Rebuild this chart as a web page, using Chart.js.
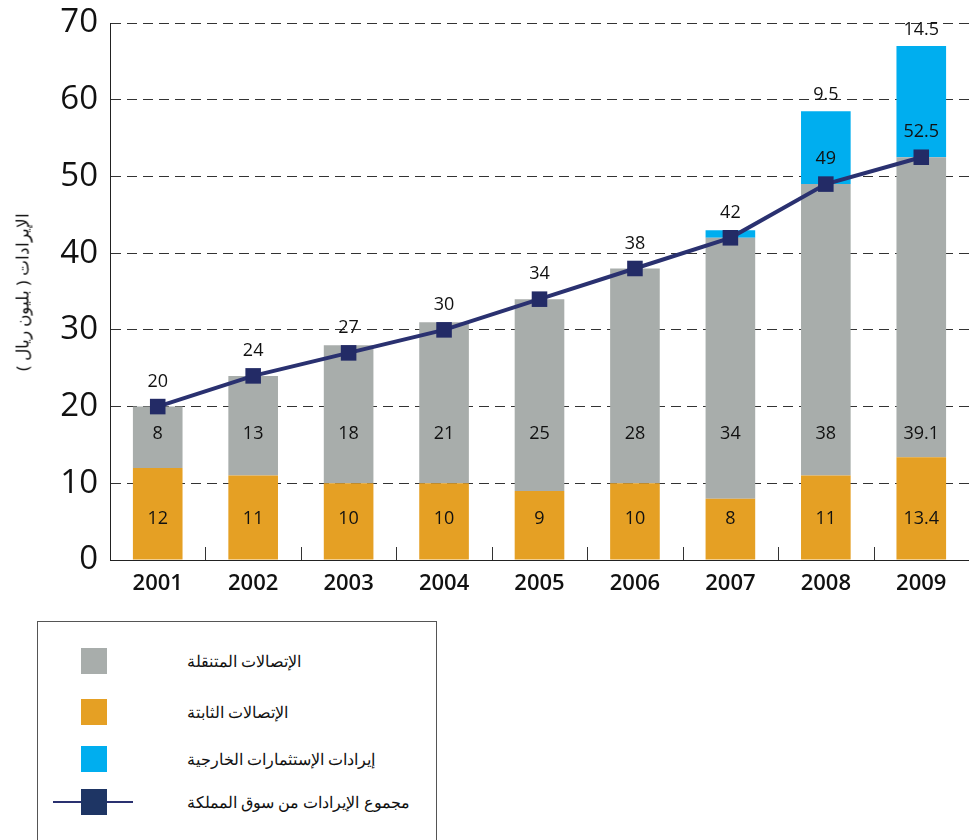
<!DOCTYPE html>
<html>
<head>
<meta charset="utf-8">
<script src="https://cdn.jsdelivr.net/npm/chart.js@4"></script>
<style>
  body { margin: 0; background: #fff; width: 969px; height: 840px; position: relative; overflow: hidden; font-family: "Noto Sans", sans-serif; }
  #wrap { position: absolute; left: 0; top: 0; width: 969px; height: 600px; }
  #ytitle { position: absolute; left: 22px; top: 292px; transform: translate(-50%, -50%) rotate(-90deg); font-size: 17px; white-space: nowrap; direction: rtl; color: #111; }
  #legend { position: absolute; left: 37px; top: 621px; width: 400px; height: 240px; border: 1px solid #555; box-sizing: border-box; }
  .item { position: absolute; left: 0; height: 26px; width: 398px; }
  .box { position: absolute; left: 43px; top: 0; width: 26px; height: 26px; }
  .txt { position: absolute; left: 149px; top: 0; line-height: 26px; font-size: 16px; direction: rtl; color: #111; white-space: nowrap; }
  .line { position: absolute; left: 15px; top: 12px; width: 80px; height: 2px; background: #2a3170; }
</style>
</head>
<body>
<div id="wrap"><canvas id="chart"></canvas></div>
<div id="ytitle">الإيرادات ( بليون ريال )</div>
<div id="legend">
  <div class="item" style="top:26px"><div class="box" style="background:#a8adab"></div><div class="txt">الإتصالات المتنقلة</div></div>
  <div class="item" style="top:77px"><div class="box" style="background:#e5a024"></div><div class="txt">الإتصالات الثابتة</div></div>
  <div class="item" style="top:124px"><div class="box" style="background:#00aeef"></div><div class="txt">إيرادات الإستثمارات الخارجية</div></div>
  <div class="item" style="top:167px"><div class="line"></div><div class="box" style="background:#1e3564"></div><div class="txt">مجموع الإيرادات من سوق المملكة</div></div>
</div>
<script>
const years = ["2001", "2002", "2003", "2004", "2005", "2006", "2007", "2008", "2009"];
const fixedLine = [12, 11, 10, 10, 9, 10, 8, 11, 13.4];
const mobile = [8, 13, 18, 21, 25, 28, 34, 38, 39.1];
const foreign = [0, 0, 0, 0, 0, 0, 1, 9.5, 14.5];
const domesticTotal = [20, 24, 27, 30, 34, 38, 42, 49, 52.5];
const yTicks = [0, 10, 20, 30, 40, 50, 60, 70];

const labelPlugin = {
  id: 'labels',
  afterDatasetsDraw(chart) {
    const ctx = chart.ctx;
    const y = chart.scales.y;
    const area = chart.chartArea;
    ctx.save();
    // small ticks between categories, pointing up
    ctx.strokeStyle = '#333';
    ctx.lineWidth = 1;
    const step = (area.right - area.left) / years.length;
    for (let i = 1; i < years.length; i++) {
      const x = Math.round(area.left + i * step) + 0.5;
      ctx.beginPath();
      ctx.moveTo(x, area.bottom - 13);
      ctx.lineTo(x, area.bottom);
      ctx.stroke();
    }
    ctx.fillStyle = '#111';
    ctx.font = '500 18px "Open Sans"';
    ctx.textAlign = 'center';
    ctx.textBaseline = 'middle';
    const barMeta = chart.getDatasetMeta(0);
    const blueMeta = chart.getDatasetMeta(2);
    const lineMeta = chart.getDatasetMeta(3);
    years.forEach((yr, i) => {
      const x = barMeta.data[i].x;
      ctx.fillText(String(fixedLine[i]), x, y.getPixelForValue(5.3));
      ctx.fillText(String(mobile[i]), x, y.getPixelForValue(16.5));
      if (foreign[i] > 5) {
        ctx.fillText(String(foreign[i]), x, blueMeta.data[i].y - 16);
      }
      const p = lineMeta.data[i];
      ctx.fillText(String(domesticTotal[i]), p.x, p.y - 25);
    });
    ctx.restore();
  }
};

new Chart(document.getElementById('chart'), {
  data: {
    labels: years,
    datasets: [
      { type: 'bar', label: 'fixed', data: fixedLine, backgroundColor: '#e5a024', stack: 'bars', order: 1, barPercentage: 0.52, categoryPercentage: 1 },
      { type: 'bar', label: 'mobile', data: mobile, backgroundColor: '#a8adab', stack: 'bars', order: 1, barPercentage: 0.52, categoryPercentage: 1 },
      { type: 'bar', label: 'foreign', data: foreign, backgroundColor: '#00aeef', stack: 'bars', order: 1, barPercentage: 0.52, categoryPercentage: 1 },
      { type: 'line', label: 'total', data: domesticTotal, stack: 'line', order: 0, borderColor: '#2a3170', borderWidth: 4,
        pointStyle: 'rect', pointRadius: 11, pointBackgroundColor: '#232b66', pointBorderColor: '#232b66', pointBorderWidth: 0 }
    ]
  },
  options: {
    responsive: true,
    maintainAspectRatio: false,
    animation: false,
    layout: { autoPadding: false, padding: { top: 23, right: 0, left: 0, bottom: 0 } },
    plugins: { legend: { display: false }, tooltip: { enabled: false } },
    scales: {
      x: {
        stacked: true,
        afterFit(scale) { scale.height = 40; scale.paddingLeft = 0; scale.paddingRight = 0; },
        grid: { display: false },
        border: { display: true, color: '#222', width: 1 },
        ticks: { color: '#111', font: { size: 22, family: 'Open Sans', weight: '600' }, padding: 3 }
      },
      y: {
        stacked: true,
        min: 0,
        max: 70,
        afterFit(scale) { scale.width = 110; scale.paddingTop = 0; scale.paddingBottom = 0; },
        afterBuildTicks(scale) { scale.ticks = yTicks.map(v => ({ value: v })); },
        grid: { color: '#333', lineWidth: 1, drawTicks: false, drawOnChartArea: true },
        border: { display: true, color: '#222', width: 1, dash: [10, 6] },
        ticks: { color: '#111', font: { size: 33, family: 'Open Sans', weight: '400' }, padding: 12 }
      }
    }
  },
  plugins: [labelPlugin]
});
</script>
</body>
</html>
